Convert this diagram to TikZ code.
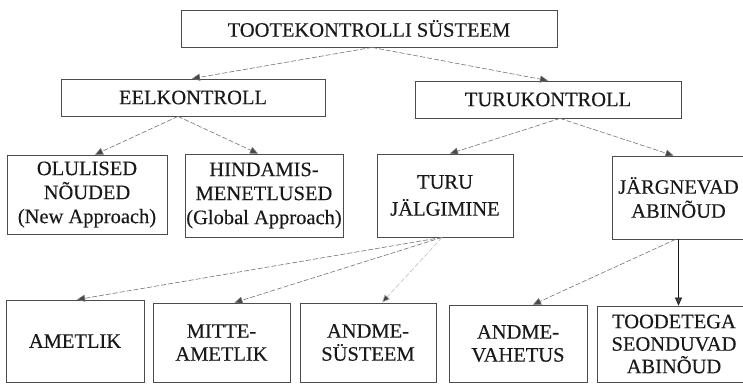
\documentclass[tikz,border=0pt]{standalone}
\usepackage{fontspec}
\setmainfont{Liberation Serif}[FakeBold=0.3]
\usetikzlibrary{arrows.meta}
\definecolor{ink}{gray}{0.1}
\definecolor{frame}{gray}{0.3}
\definecolor{link}{gray}{0.45}
\definecolor{tipfill}{gray}{0.28}
\begin{document}
\begin{tikzpicture}[x=1pt,y=-1pt,
  box/.style={draw=frame, line width=0.8pt, inner sep=1pt, align=center,
    text=ink, font=\rmfamily\fontsize{20.5}{24}\selectfont},
  link/.style={draw=link, line width=0.6pt, dash pattern=on 5pt off 2pt,
    -{Triangle[length=8pt,width=7pt,fill=tipfill]}},
  faintlink/.style={link, draw=link!45},
  solidlink/.style={draw=ink, line width=0.7pt,
    -{Triangle[length=8pt,width=7pt,fill=tipfill]}}]
\useasboundingbox (0,0) rectangle (743,386);

% level 0
\node[box, minimum width=376pt, minimum height=37pt] (top) at (369,28.5) {TOOTEKONTROLLI SÜSTEEM};

% level 1
\node[box, minimum width=264pt, minimum height=37pt] (eel) at (193,97.5) {EELKONTROLL};
\node[box, minimum width=266pt, minimum height=37pt] (turuk) at (548,99.5) {TURUKONTROLL};

% level 2
\node[box, minimum width=160pt, minimum height=79pt] (olu) at (87,194.5) {OLULISED\\NÕUDED\\(New Approach)};
\node[box, minimum width=158pt, minimum height=83pt] (hind) at (264,195.5) {HINDAMIS-\\MENETLUSED\\(Global Approach)};
\node[box, minimum width=136pt, minimum height=83pt, font=\rmfamily\fontsize{20.5}{27}\selectfont] (turu) at (445,195.5) {TURU\\JÄLGIMINE};
\node[box, minimum width=133pt, minimum height=83pt] (jarg) at (678.5,197.5) {JÄRGNEVAD\\ABINÕUD};

% level 3
\node[box, minimum width=138pt, minimum height=82pt] (amet) at (75,341) {AMETLIK};
\node[box, minimum width=137pt, minimum height=79pt, font=\rmfamily\fontsize{20.5}{23}\selectfont] (mitte) at (221.5,342.5) {MITTE-\\AMETLIK};
\node[box, minimum width=136pt, minimum height=79pt, font=\rmfamily\fontsize{20.5}{23}\selectfont] (andsys) at (368,342.5) {ANDME-\\SÜSTEEM};
\node[box, minimum width=138pt, minimum height=77pt, font=\rmfamily\fontsize{20.5}{23}\selectfont] (andvah) at (518,343.5) {ANDME-\\VAHETUS};
\node[box, minimum width=154pt, minimum height=76pt, font=\rmfamily\fontsize{20.5}{22.5}\selectfont] (tood) at (674,344) {TOODETEGA\\SEONDUVAD\\ABINÕUD};

% connectors
\draw[link] ([xshift=3pt]top.south) -- ([xshift=-1pt]eel.north);
\draw[link] ([xshift=3pt]top.south) -- (turuk.north);

\draw[link] ([xshift=-15pt]eel.south) -- ([xshift=8pt]olu.north);
\draw[link] ([xshift=-15pt]eel.south) -- ([xshift=-6pt]hind.north);

\draw[link] ([xshift=12pt]turuk.south) -- ([xshift=5pt]turu.north);
\draw[link] ([xshift=12pt]turuk.south) -- ([xshift=-5pt]jarg.north);

\draw[link] ([xshift=-3pt]turu.south) -- ([xshift=2pt]amet.north);
\draw[link] ([xshift=-3pt]turu.south) -- ([xshift=13pt]mitte.north);
\draw[faintlink] ([xshift=-3pt]turu.south) -- ([xshift=14pt]andsys.north);

\draw[link] ([xshift=-3pt]jarg.south) -- ([xshift=15pt]andvah.north);
\draw[solidlink] (jarg.south) -- (jarg.south |- tood.north);
\end{tikzpicture}
\end{document}
